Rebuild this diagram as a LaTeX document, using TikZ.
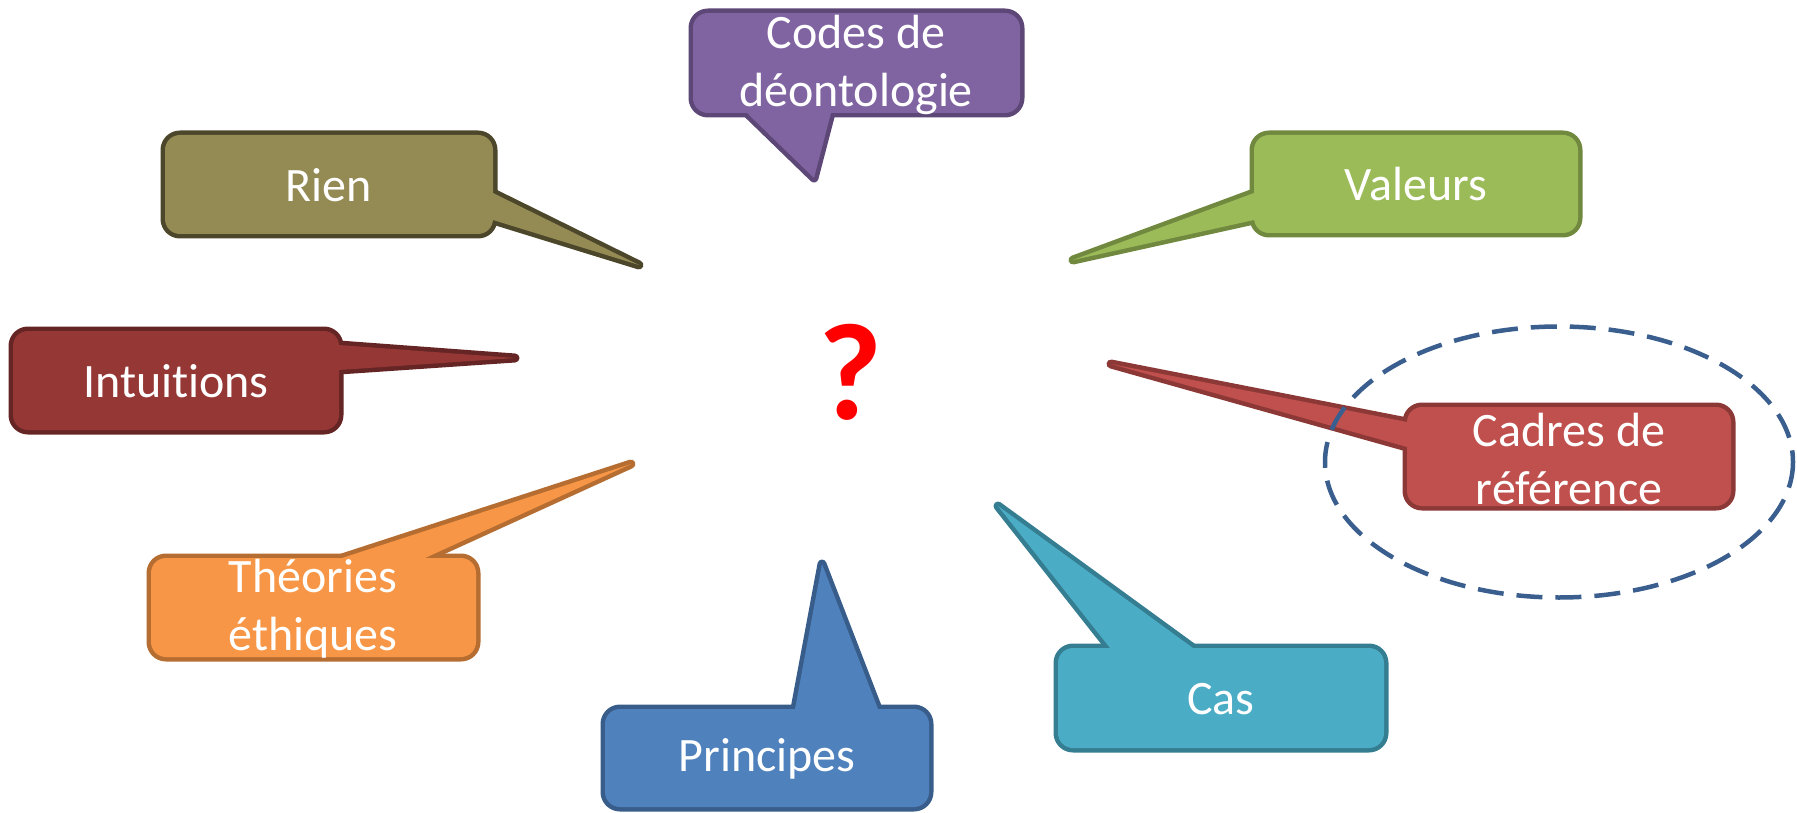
\documentclass[tikz,border=0pt]{standalone}
\usepackage{fontspec}
\setmainfont{Carlito}[Ligatures=NoCommon]
\definecolor{codesfill}{HTML}{8064A2}
\definecolor{codesline}{HTML}{5C4776}
\definecolor{rienfill}{HTML}{948A54}
\definecolor{rienline}{HTML}{4C472B}
\definecolor{valfill}{HTML}{9BBB59}
\definecolor{valline}{HTML}{71893F}
\definecolor{intfill}{HTML}{953735}
\definecolor{intline}{HTML}{652524}
\definecolor{cadfill}{HTML}{C0504D}
\definecolor{cadline}{HTML}{8C3836}
\definecolor{theofill}{HTML}{F79646}
\definecolor{theoline}{HTML}{B66D31}
\definecolor{prinfill}{HTML}{4F81BD}
\definecolor{prinline}{HTML}{385D8A}
\definecolor{casfill}{HTML}{4BACC6}
\definecolor{casline}{HTML}{357D91}
\definecolor{ringline}{HTML}{3A5F8E}
\tikzset{
  rim/.style={line width=9pt, line join=round},
  txt/.style={inner sep=0pt, align=center, text=white,
    font=\fontsize{48}{58}\selectfont},
  ring/.style={draw=ringline, line width=4.5pt, dash pattern=on 26pt off 13pt}
}
\begin{document}
\begin{tikzpicture}[x=1pt,y=-1pt]
\useasboundingbox (0,0) rectangle (1797,813);
% Codes de deontologie
\draw [rim, draw=codesline, rounded corners=15] (693,13) rectangle (1020,113);
\draw [rim, draw=codesline] (747,113) -- (814,178) -- (831,113) -- cycle;
\fill [codesfill, rounded corners=15] (693,13) rectangle (1020,113);
\fill [codesfill] (747,113) -- (814,178) -- (831,113) -- cycle;
\node [txt] (codes) at (856,65) {Codes de\\déontologie};
% Rien
\draw [rim, draw=rienline, rounded corners=15] (165,135) rectangle (493,234);
\draw [rim, draw=rienline] (493,193) -- (639,265) -- (493,220) -- cycle;
\fill [rienfill, rounded corners=15] (165,135) rectangle (493,234);
\fill [rienfill] (493,193) -- (639,265) -- (493,220) -- cycle;
\node [txt] (rien) at (329,185) {Rien};
% Valeurs
\draw [rim, draw=valline, rounded corners=15] (1254,135) rectangle (1578,233);
\draw [rim, draw=valline] (1254,193) -- (1073,260) -- (1254,220) -- cycle;
\fill [valfill, rounded corners=15] (1254,135) rectangle (1578,233);
\fill [valfill] (1254,193) -- (1073,260) -- (1254,220) -- cycle;
\node [txt] (valeurs) at (1416,184) {Valeurs};
% Intuitions
\draw [rim, draw=intline, rounded corners=15] (13,331) rectangle (339,430);
\draw [rim, draw=intline] (339,345) -- (515,358) -- (339,370) -- cycle;
\fill [intfill, rounded corners=15] (13,331) rectangle (339,430);
\fill [intfill] (339,345) -- (515,358) -- (339,370) -- cycle;
\node [txt] (intuitions) at (176,381) {Intuitions};
% Cadres de reference
\draw [rim, draw=cadline, rounded corners=15] (1407,407) rectangle (1731,506);
\draw [rim, draw=cadline] (1407,422) -- (1111,364) -- (1407,447) -- cycle;
\fill [cadfill, rounded corners=15] (1407,407) rectangle (1731,506);
\fill [cadfill] (1407,422) -- (1111,364) -- (1407,447) -- cycle;
\node [txt] (cadres) at (1569,459) {Cadres de\\référence};
% Theories ethiques
\draw [rim, draw=theoline, rounded corners=15] (151,558) rectangle (476,657);
\draw [rim, draw=theoline] (342,558) -- (631,464) -- (425,558) -- cycle;
\fill [theofill, rounded corners=15] (151,558) rectangle (476,657);
\fill [theofill] (342,558) -- (631,464) -- (425,558) -- cycle;
\node [txt] (theories) at (313,609) {Théories\\éthiques};
% Principes
\draw [rim, draw=prinline, rounded corners=15] (605,709) rectangle (929,807);
\draw [rim, draw=prinline] (795,709) -- (822,564) -- (878,709) -- cycle;
\fill [prinfill, rounded corners=15] (605,709) rectangle (929,807);
\fill [prinfill] (795,709) -- (822,564) -- (878,709) -- cycle;
\node [txt] (principes) at (767,759) {Principes};
% Cas
\draw [rim, draw=casline, rounded corners=15] (1058,648) rectangle (1384,748);
\draw [rim, draw=casline] (1110,648) -- (998,506) -- (1193,648) -- cycle;
\fill [casfill, rounded corners=15] (1058,648) rectangle (1384,748);
\fill [casfill] (1110,648) -- (998,506) -- (1193,648) -- cycle;
\node [txt] (cas) at (1221,699) {Cas};
% question
\node [inner sep=0pt, text=red, font=\fontsize{138}{138}\bfseries\selectfont] (quest) at (850,372) {?};
% dashed ring round the frames
\draw [ring] (1559,462) ellipse [x radius=234, y radius=135.5];
\end{tikzpicture}
\end{document}
